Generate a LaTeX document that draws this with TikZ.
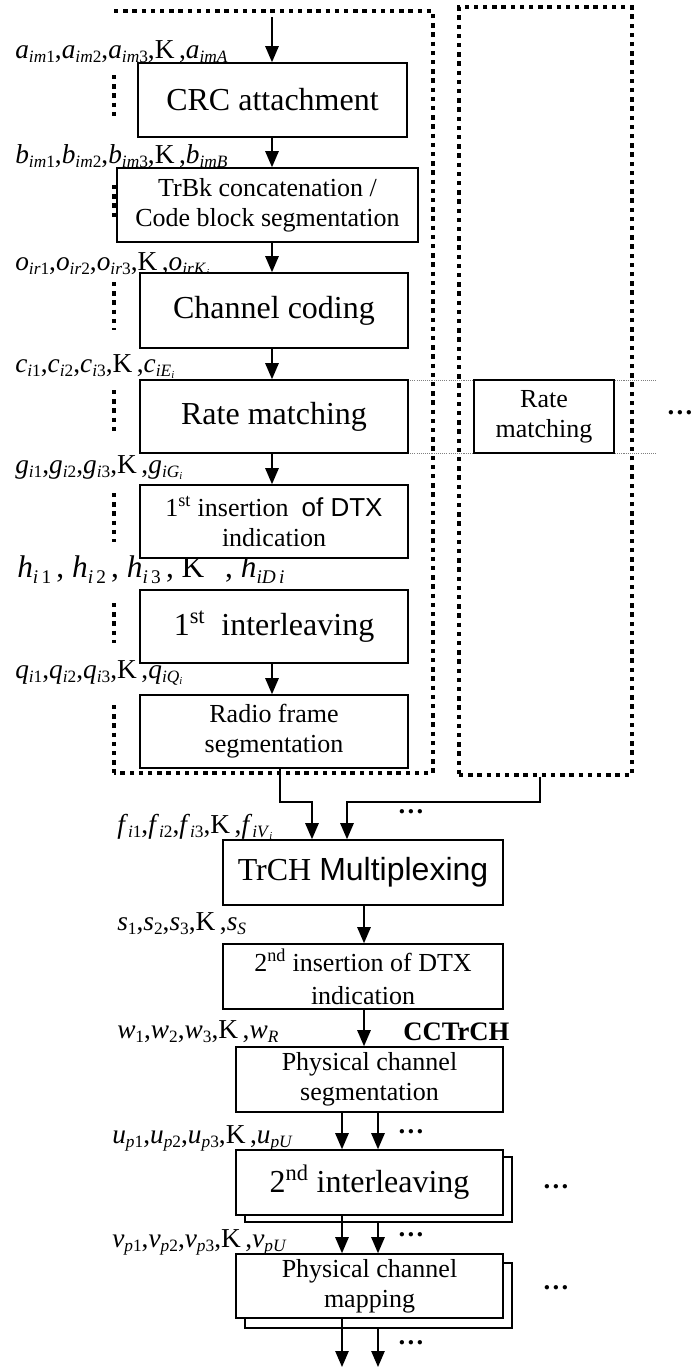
\documentclass[tikz,border=0pt]{standalone}
\usepackage{fontspec}
\setmainfont{Liberation Serif}
\newfontfamily\arialfont{Liberation Sans}
\usetikzlibrary{arrows.meta}

% subscripts of the bit sequence labels
\newcommand\sbs[1]{\raisebox{-0.32ex}{\fontsize{13}{13}\selectfont #1}}
\newcommand\ssb[1]{\raisebox{-0.3ex}{\fontsize{8}{8}\selectfont\textit{#1}}}
\newcommand\hsb[1]{\raisebox{-0.45ex}{\fontsize{14.5}{14.5}\selectfont #1}}
% x_{p1},x_{p2},x_{p3},K,x_{last}
\newcommand\seqlab[3]{\textit{#1}\sbs{#21},\textit{#1}\sbs{#22},\textit{#1}\sbs{#23},K\,,\textit{#1}\sbs{#3}}

\begin{document}
\begin{tikzpicture}[x=0.75pt,y=-0.75pt,
  sz/.style 2 args={minimum width=#1*0.75pt, minimum height=#2*0.75pt},
  box/.style={draw, line width=1.2pt, fill=white, inner sep=0pt, align=center},
  arr/.style={line width=1.2pt, -{Triangle[length=12pt,width=10pt]}},
  tchan/.style={line width=2.6pt, dash pattern=on 3.3pt off 3.6pt},
  guide/.style={gray, line width=0.7pt, dash pattern=on 0.8pt off 0.8pt},
  lab/.style={anchor=base west, inner sep=0pt, font=\fontsize{20.5}{21}\selectfont},
  big/.style={font=\fontsize{24}{28}\selectfont},
  small/.style={font=\fontsize{19.5}{22.5}\selectfont},
  dots/.style={inner sep=0pt, font=\fontsize{20}{20}\selectfont\bfseries}]

\useasboundingbox (0,0) rectangle (692,1368);

% guide lines level with the rate matching blocks
\draw[guide] (408,380) -- (656,380);
\draw[guide] (408,453) -- (656,453);

% transport channel i (left edge broken by the labels)
\draw[tchan] (114,11) -- (433,11) -- (433,773) -- (114,773);
\foreach \a/\b in {75/120,185/220,282/330,390/432,493/542,603/643,705/773}
  \draw[tchan] (114,\a) -- (114,\b);

% another transport channel
\node[draw, tchan, inner sep=0pt, sz={173}{768}] (chan2) at (545.5,391) {};

% bit sequences
\node[lab] (la) at (15,58)  {\seqlab{a}{\textit{im}}{\textit{imA}}};
\node[lab] (lb) at (15,163) {\seqlab{b}{\textit{im}}{\textit{imB}}};
\node[lab] (lo) at (15,270) {\seqlab{o}{\textit{ir}}{\textit{irK}\ssb{i}}};
\node[lab] (lc) at (15,372) {\seqlab{c}{\textit{i}}{\textit{iE}\ssb{i}}};
\node[lab] (lg) at (15,473) {\seqlab{g}{\textit{i}}{\textit{iG}\ssb{i}}};
\node[lab, font=\fontsize{23.5}{23.5}\selectfont] (lh) at (17,577)
  {\textit{h}\hsb{\textit{i}\,1}\,,\ \textit{h}\hsb{\textit{i}\,2}\,,\ \textit{h}\hsb{\textit{i}\,3}\,,\ K\ \ \,,\ \textit{h}\hsb{\textit{iD}\,\textit{i}}};
\node[lab] (lq) at (15,678) {\seqlab{q}{\textit{i}}{\textit{iQ}\ssb{i}}};
\node[lab] (lf) at (117,833) {\seqlab{f}{\textit{i}}{\textit{iV}\ssb{i}}};
\node[lab] (ls) at (117,930) {\seqlab{s}{}{\textit{S}}};
\node[lab] (lw) at (117,1038) {\seqlab{w}{}{\textit{R}}};
\node[lab] (lu) at (112,1143) {\seqlab{u}{\textit{p}}{\textit{pU}}};
\node[lab] (lv) at (112,1247) {\seqlab{v}{\textit{p}}{\textit{pU}}};
\node[anchor=base west, inner sep=0pt, font=\fontsize{20}{20}\selectfont\bfseries] (cct) at (403,1040) {CCTrCH};

% processing blocks of transport channel i
\node[box, big, sz={269}{74}] (crc) at (272.5,100) {CRC attachment};
\node[box, small, sz={301}{74}] (trbk) at (267.5,205) {TrBk concatenation /\\Code block segmentation};
\node[box, big, sz={268}{75}] (chc) at (274,310.5) {Channel coding};
\node[box, big, sz={268}{73}] (rm) at (274,416.5) {Rate matching};
\node[box, small, sz={268}{73}] (dtx1) at (274,521.5) {1\textsuperscript{st} insertion\ \ {\arialfont of DTX}\\indication};
\node[box, big, sz={268}{73}] (il1) at (274,626.5) {1\textsuperscript{st}\ \ interleaving};
\node[box, small, sz={268}{73}] (rfs) at (274,731.5) {Radio frame\\segmentation};
\node[box, small, sz={140}{73}] (rm2) at (544,416.5) {Rate\\matching};

% blocks of the composite channel
\node[box, big, sz={280}{65}] (mux) at (363,872.5) {TrCH {\arialfont Multiplexing}};
\node[box, small, sz={280}{65}] (dtx2) at (363,976.5) {2\textsuperscript{nd} insertion of DTX\\[2pt]indication};
\node[box, small, sz={267}{65}] (pcs) at (369.5,1079.5) {Physical channel\\segmentation};
\node[box, sz={267}{65}] (il2b) at (378.5,1189.5) {};
\node[box, big, sz={267}{65}] (il2) at (369.5,1182.5) {2\textsuperscript{nd} interleaving};
\node[box, sz={267}{65}] (pcmb) at (378.5,1295.5) {};
\node[box, small, sz={267}{64}] (pcm) at (369.5,1286) {Physical channel\\mapping};

% continuation marks
\node[dots] (d0) at (680,413) {…};
\node[dots] (d1) at (411,812) {…};
\node[dots] (d2) at (411,1132) {…};
\node[dots] (d3) at (411,1235) {…};
\node[dots] (d4) at (411,1343) {…};
\node[dots] (d5) at (556,1187) {…};
\node[dots] (d6) at (556,1288) {…};

% connector columns
\coordinate (xa) at (272,0);
\coordinate (xb) at (280,0);
\coordinate (xc) at (312,0);
\coordinate (xd) at (347,0);
\coordinate (xe) at (540,0);
\coordinate (xf) at (364,0);
\coordinate (xg) at (342,0);
\coordinate (xh) at (378,0);
\coordinate (in) at (272,17);
\coordinate (outg) at (342,1367);
\coordinate (outh) at (378,1367);

\draw[arr] (in) -- (crc.north -| xa);
\draw[arr] (crc.south -| xa) -- (trbk.north -| xa);
\draw[arr] (trbk.south -| xa) -- (chc.north -| xa);
\draw[arr] (chc.south -| xa) -- (rm.north -| xa);
\draw[arr] (rm.south -| xa) -- (dtx1.north -| xa);
\draw[arr] (il1.south -| xa) -- (rfs.north -| xa);

\draw[arr] (rfs.south -| xb) -- (280,802) -- (312,802) -- (mux.north -| xc);
\draw[arr] (chan2.south -| xe) -- (540,802) -- (347,802) -- (mux.north -| xd);

\draw[arr] (mux.south -| xf) -- (dtx2.north -| xf);
\draw[arr] (dtx2.south -| xf) -- (pcs.north -| xf);
\draw[arr] (pcs.south -| xg) -- (il2.north -| xg);
\draw[arr] (pcs.south -| xh) -- (il2.north -| xh);
\draw[arr] (il2.south -| xg) -- (pcm.north -| xg);
\draw[arr] (il2b.south -| xh) -- (pcm.north -| xh);
\draw[arr] (pcm.south -| xg) -- (outg);
\draw[arr] (pcmb.south -| xh) -- (outh);
\end{tikzpicture}
\end{document}
